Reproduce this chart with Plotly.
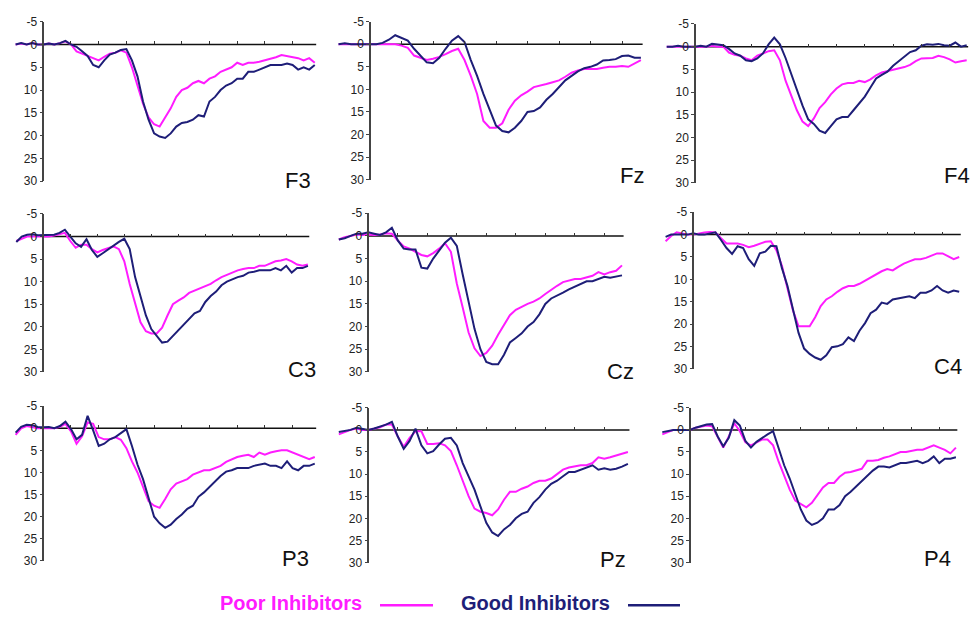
import plotly.graph_objects as go

W, H = 976, 623

# ERP amplitudes (µV, positive plotted downward), sampled every 20 ms from -100 ms
T0_MS = -100
STEP_MS = 20

SITES = ["F3", "Fz", "F4", "C3", "Cz", "C4", "P3", "Pz", "P4"]

F3_GOOD = [0, -0.3, 0, -0.3, 0, 0, -0.2, 0, -0.3, -0.8,
           0, 0.5, 1.5, 2.5, 4.5, 5.0, 3.5, 2.2, 1.8, 1.2,
           1.0, 3.5, 7.0, 12.5, 16.5, 19.5, 20.2, 20.5, 19.5, 18,
           17.2, 17, 16.5, 15.5, 15.8, 12.5, 11.5, 10, 9, 8.5,
           7.5, 7.5, 6, 6, 5.5, 5, 4.5, 4.5, 4.5, 4.2,
           4.5, 5.5, 5, 5.5, 4.5]
F3_POOR = [0, -0.2, 0, -0.3, 0, 0, -0.2, 0, -0.3, -0.7,
           0, 1.5, 2, 2.5, 3, 3.5, 2.7, 2, 1.8, 1.3,
           1.8, 5, 9, 13, 16, 17.5, 18, 16, 14, 11.5,
           10, 9.5, 8.5, 8, 8.5, 7.5, 7, 6, 5.5, 5,
           4, 4.5, 4, 4, 3.8, 3.5, 3.2, 2.8, 2.3, 2.5,
           2.8, 3, 3.5, 3, 4]

FZ_GOOD = [0, -0.2, 0, 0, 0, 0, 0, -0.3, -1.0, -2,
           -1.4, -0.8, 1.0, 2.5, 4.0, 4.2, 3.0, 1.0, -0.8, -1.8,
           -0.5, 3.5, 7, 11, 14.5, 18, 19.2, 19.5, 18.5, 17,
           15, 14.8, 14, 12.3, 11, 9.5, 8, 7, 6, 5.3,
           5, 4.5, 3.6, 3.5, 3.3, 2.6, 2.5, 3, 3]
FZ_POOR = [0, 0, 0, 0, 0, 0, 0, 0, 0, 0,
           0.3, 0.8, 2.5, 3, 3.5, 3.2, 2.8, 2.2, 1.5, 1.0,
           3.5, 7, 11, 17, 18.5, 18.5, 17.5, 14.5, 12.5, 11.3,
           10.5, 9.5, 9.2, 8.8, 8.4, 8, 7.2, 6.3, 5.8, 5.5,
           5.5, 5.5, 5.2, 5, 5, 4.8, 5, 4.2, 3.5]

F4_GOOD = [0, 0, -0.2, 0, 0, 0, -0.2, 0, -0.6, -0.5,
           -0.3, 0.5, 1.5, 2.0, 3.0, 3.2, 2.6, 1.5, -0.5, -2.0,
           -0.5, 2.5, 6.0, 9.5, 13, 16, 17, 18.5, 19, 17.5,
           16, 15.5, 15.5, 14, 12.5, 11, 9, 7, 6.2, 5.5,
           4.2, 3.2, 2, 1.2, 0.8, -0.2, -0.5, -0.4, -0.6, -0.3,
           -0.2, -0.9, 0, -0.3]
F4_POOR = [0, 0, 0, 0, 0, 0, 0, 0, -0.2, 0,
           0, 1.3, 1.8, 2.0, 2.6, 3.0, 2.0, 1.5, 1.0, 0.8,
           3.0, 7.5, 10.8, 14, 16.5, 17.5, 15.8, 13.5, 12.2, 10.5,
           9.2, 8.3, 8, 8, 7.5, 7.8, 7.2, 6.3, 5.7, 5.4,
           5, 4.8, 4.5, 4.0, 3.2, 2.6, 2.5, 2.5, 2.0, 2.3,
           2.8, 3.5, 3.2, 3]

C3_GOOD = [1.2, 0, -0.4, -0.5, -0.3, -0.3, -0.3, -0.4, -0.8, -1.5,
           0, 1.5, 2.3, 0.6, 3.0, 4.5, 3.7, 2.8, 2.0, 1.2,
           0.5, 2.8, 9, 13.5, 17.5, 20.5, 22, 23.5, 23.3, 22,
           20.8, 19.5, 18.2, 17, 16.5, 14.5, 13.2, 12.2, 10.8, 10,
           9.5, 9, 8.7, 8, 7.8, 7.5, 7.5, 7.5, 7, 7.5,
           6.5, 8, 7, 7, 6.5]
C3_POOR = [1.0, 0.5, 0, 0, 0, 0, 0, -0.2, -0.5, -0.8,
           1.0, 2.5, 1.8, 1.8, 2.8, 3.5, 3.0, 2.6, 2.2, 2.8,
           5.5, 10.5, 15, 19, 21, 21.5, 21.5, 20.2, 17.5, 15,
           14.2, 13.5, 12.5, 12, 11.5, 11, 10.5, 9.7, 9, 8.5,
           8, 7.5, 7.2, 7, 7, 6.5, 6.5, 6, 5.5, 5.3,
           5, 5.5, 6.2, 6.5, 6.2]

CZ_GOOD = [0.8, 0.5, 0, -0.5, -0.5, -0.8, -0.5, -0.2, -0.8, -1.8,
           1.0, 2.8, 3.0, 3.0, 7.0, 7.2, 5.0, 3.3, 1.5, 0.4,
           2.2, 8.5, 14.5, 20.5, 25, 27.8, 28.3, 28.3, 26.2, 23.5,
           22.5, 21.5, 20, 19, 17.3, 15, 13.8, 13.2, 12.5, 11.8,
           11.2, 10.5, 10, 10, 9.5, 9, 9.2, 9, 8.7]
CZ_POOR = [0.8, 0.3, 0, -0.3, -0.2, -0.3, -0.2, -0.3, -0.6, -0.5,
           1.0, 2.3, 2.8, 3.5, 4.2, 4.5, 3.8, 2.8, 1.6, 3.5,
           10.5, 15.8, 21.3, 24.8, 26.5, 25.8, 24.2, 21.8, 19.5, 17.5,
           16.3, 15.6, 15, 14.5, 13.8, 12.8, 11.8, 11, 10.2, 9.8,
           9.5, 9.5, 9.2, 8.8, 8, 8.5, 8, 7.7, 6.5]

C4_GOOD = [0.5, 0, 0, 0, 0, -0.3, 0, 0, -0.2, -0.5,
           1.2, 3.0, 4.3, 2.6, 3.0, 5.5, 7.0, 4.2, 3.8, 2.5,
           2.6, 7.5, 11.5, 17, 22, 25.5, 26.7, 27.5, 28, 27,
           25.2, 25, 24.5, 23, 23.8, 21.5, 19.8, 17.6, 16.8, 15.2,
           15.5, 14.5, 14.3, 14, 13.8, 14.2, 13, 13, 12.5, 11.5,
           12.5, 13, 12.5, 12.8]
C4_POOR = [1.5, 0.3, -0.5, -0.3, 0, 0, -0.3, -0.5, -0.6, -0.5,
           0.8, 2.0, 2.0, 2.0, 2.3, 2.8, 2.5, 2.0, 1.6, 1.5,
           3.5, 7, 12, 17, 20.5, 20.5, 20.5, 18.5, 16, 14.5,
           13.8, 12.8, 12, 11.5, 11.5, 11, 10.3, 9.5, 8.8, 8.2,
           7.7, 8, 7.2, 6.5, 6, 5.5, 5.5, 5.2, 4.7, 4.2,
           4.2, 4.8, 5.5, 5]

P3_GOOD = [1.0, -0.3, -0.8, -0.7, -0.3, -0.2, -0.3, 0, -0.5, -1.5,
           0.2, 2.5, 1.5, -2.8, 0.5, 4.0, 3.5, 2.5, 2.0, 1.0,
           0.2, 4.0, 8.2, 11.5, 16, 20, 21.5, 22.5, 21.8, 20.5,
           19.5, 18.2, 17.5, 15.5, 14.5, 13.2, 12, 10.8, 9.8, 9.5,
           9, 9, 9, 8.5, 8.2, 8, 8.5, 8.5, 9, 7.5,
           9, 9.5, 8.5, 8.5, 8]
P3_POOR = [1.5, 0, -0.5, -0.3, 0, 0, 0, 0, -0.3, -1.0,
           0.7, 3.5, 1.8, -1.3, -1.0, 2.0, 2.5, 2.5, 2.0, 2.6,
           4.5, 7.5, 10, 13.5, 16.5, 17.5, 18, 16, 13.8, 12.5,
           12, 11.5, 10.5, 10, 9.5, 9.5, 9, 8.5, 7.6, 7,
           6.5, 6.2, 6, 6.5, 5.5, 6, 5.5, 5.2, 5, 5,
           5.5, 6, 6.5, 7, 6.5]

PZ_GOOD = [0.5, 0.2, 0, -0.5, -0.3, 0, -0.3, -0.7, -1.2, -1.8,
           1.5, 4.3, 2.5, -0.3, 3.5, 5.3, 4.8, 3.3, 2.0, 1.8,
           3.5, 7.5, 10.5, 13.5, 17.3, 21, 23.2, 24, 22.5, 21.5,
           20, 19, 18.5, 16.5, 15.2, 13.5, 12.2, 11.5, 10.5, 9.5,
           9.5, 9, 8.5, 8, 9, 8.7, 9, 8.8, 8.3, 7.7]
PZ_POOR = [1.0, 0.5, 0, -0.3, 0, 0, -0.3, -0.6, -1.2, -1.2,
           1.5, 3.8, 1.8, 0.3, 0.3, 3.2, 3.2, 3.0, 3.5, 4.8,
           8.0, 11.5, 15, 17.8, 18.5, 18.8, 19.3, 18, 15.8, 14,
           14, 13.3, 12.8, 12, 11.5, 11.5, 11, 10, 9, 8.5,
           8.2, 8, 8, 7.5, 6.2, 6.5, 6.2, 5.8, 5.5, 5]

P4_GOOD = [0.5, 0.2, 0, 0, 0, 0, -0.5, -0.8, -1.2, -1.3,
           1.5, 3.7, 1.8, -2.2, -1.0, 2.5, 4.0, 2.7, 1.8, 1.0,
           0.3, 4.0, 8, 11, 14.5, 18, 20.5, 21.5, 21, 20,
           18, 18, 17, 15, 14, 12.8, 11.5, 10.5, 9.2, 8.3,
           8.3, 8.5, 8, 7.5, 7.5, 7.2, 7, 7.5, 7, 6,
           7.5, 6.5, 6.5, 6.2]
P4_POOR = [1.0, 0.5, 0, 0, 0, 0, -0.5, -0.8, -1, -0.8,
           1.5, 4.0, 1.5, -1.5, 0.3, 2.8, 3.5, 2.8, 2.2, 2.2,
           3.5, 7.2, 10.5, 13.5, 16, 16.8, 17.5, 16.5, 14.8, 13,
           12, 12, 10.6, 9.7, 9.5, 9.2, 8.8, 7, 7, 6.8,
           6.3, 6, 5.5, 5, 5, 4.7, 4.5, 4.5, 4, 3.5,
           4, 4.5, 5.3, 4]

DATA = {
    "F3": (F3_GOOD, F3_POOR), "Fz": (FZ_GOOD, FZ_POOR), "F4": (F4_GOOD, F4_POOR),
    "C3": (C3_GOOD, C3_POOR), "Cz": (CZ_GOOD, CZ_POOR), "C4": (C4_GOOD, C4_POOR),
    "P3": (P3_GOOD, P3_POOR), "Pz": (PZ_GOOD, PZ_POOR), "P4": (P4_GOOD, P4_POOR),
}

Y_TICKS = [-5, 0, 5, 10, 15, 20, 25, 30]
Y_MIN, Y_MAX = -5, 30

# Panel geometry in pixels: x of the 0 ms axis, px per ms, y of -5 and of 30, site label centre
GEOM = {
    "F3": dict(ax=43.3, ppm=0.277, ytop=15.0, ybot=178.3, lab=(298, 177)),
    "Fz": dict(ax=370.0, ppm=0.315, ytop=15.0, ybot=176.7, lab=(632, 172)),
    "F4": dict(ax=695.0, ppm=0.283, ytop=17.3, ybot=180.0, lab=(957, 172)),
    "C3": dict(ax=43.3, ppm=0.270, ytop=211.7, ybot=373.3, lab=(302, 371)),
    "Cz": dict(ax=368.3, ppm=0.295, ytop=211.0, ybot=373.3, lab=(620, 373)),
    "C4": dict(ax=693.3, ppm=0.277, ytop=210.0, ybot=370.0, lab=(948, 368)),
    "P3": dict(ax=43.3, ppm=0.277, ytop=408.3, ybot=566.7, lab=(295, 564)),
    "Pz": dict(ax=368.3, ppm=0.295, ytop=410.0, ybot=568.3, lab=(613, 565)),
    "P4": dict(ax=690.0, ppm=0.277, ytop=410.0, ybot=568.3, lab=(937, 564)),
}

POOR_COLOR = "#ff1cff"
GOOD_COLOR = "#1e1e78"
FONT = "Liberation Sans, Arial, sans-serif"

fig = go.Figure()
layout = {}
shapes = []
annotations = []

for i, site in enumerate(SITES):
    n = i + 1
    sfx = "" if n == 1 else str(n)
    g = GEOM[site]
    good, poor = DATA[site]
    t = [T0_MS + STEP_MS * k for k in range(len(good))]
    t_end = t[-1]
    xr0, xr1 = T0_MS - 6, t_end + 6
    x_left = g["ax"] + xr0 * g["ppm"]
    x_right = g["ax"] + xr1 * g["ppm"]
    xdom = [x_left / W, x_right / W]
    ydom = [1 - g["ybot"] / H, 1 - g["ytop"] / H]
    zero_pos = ydom[0] + (Y_MAX - 0) / (Y_MAX - Y_MIN) * (ydom[1] - ydom[0])

    fig.add_trace(go.Scatter(x=t, y=poor, mode="lines", name="Poor Inhibitors",
                             line=dict(color=POOR_COLOR, width=2),
                             xaxis="x" + sfx, yaxis="y" + sfx,
                             showlegend=False, hoverinfo="skip"))
    fig.add_trace(go.Scatter(x=t, y=good, mode="lines", name="Good Inhibitors",
                             line=dict(color=GOOD_COLOR, width=2),
                             xaxis="x" + sfx, yaxis="y" + sfx,
                             showlegend=False, hoverinfo="skip"))

    layout["xaxis" + sfx] = dict(
        domain=xdom, range=[xr0, xr1], anchor="free", position=zero_pos,
        side="top", showline=False, showgrid=False, zeroline=False,
        ticks="outside", ticklen=3, tickwidth=1.2, tickcolor="#333",
        tickvals=list(range(100, t_end + 1, 100)), showticklabels=False,
    )
    layout["yaxis" + sfx] = dict(
        domain=ydom, range=[Y_MAX, Y_MIN], anchor="free", position=g["ax"] / W,
        showline=True, linecolor="#444", linewidth=1.5, showgrid=False,
        zeroline=False, ticks="outside", ticklen=3, tickwidth=1.2,
        tickcolor="#444", tickvals=Y_TICKS,
        ticktext=[str(v) for v in Y_TICKS],
        tickfont=dict(family=FONT, size=12, color="#222"),
    )

    # baseline from stimulus onset to the end of the epoch
    shapes.append(dict(type="line", xref="x" + sfx, yref="y" + sfx,
                       x0=0, x1=t_end + 6, y0=0, y1=0, layer="below",
                       line=dict(color="#111", width=1.5)))

    lx, ly = g["lab"]
    annotations.append(dict(text=site, x=lx / W, y=1 - ly / H, xref="paper", yref="paper",
                            xanchor="center", yanchor="middle", showarrow=False,
                            font=dict(family=FONT, size=22, color="#111")))

# legend row
annotations.append(dict(text="<b>Poor Inhibitors</b>", x=291 / W, y=1 - 610 / H,
                        xref="paper", yref="paper", xanchor="center", yanchor="middle",
                        showarrow=False, font=dict(family=FONT, size=20, color=POOR_COLOR)))
annotations.append(dict(text="<b>Good Inhibitors</b>", x=535 / W, y=1 - 610 / H,
                        xref="paper", yref="paper", xanchor="center", yanchor="middle",
                        showarrow=False, font=dict(family=FONT, size=20, color=GOOD_COLOR)))
shapes.append(dict(type="line", xref="paper", yref="paper", x0=380 / W, x1=433 / W,
                   y0=1 - 612 / H, y1=1 - 612 / H, line=dict(color=POOR_COLOR, width=2.5)))
shapes.append(dict(type="line", xref="paper", yref="paper", x0=628 / W, x1=680 / W,
                   y0=1 - 612 / H, y1=1 - 612 / H, line=dict(color=GOOD_COLOR, width=2.5)))

fig.update_layout(
    width=W, height=H, margin=dict(l=0, r=0, t=0, b=0),
    paper_bgcolor="white", plot_bgcolor="rgba(0,0,0,0)",
    showlegend=False, shapes=shapes, annotations=annotations,
    **layout,
)

fig.write_html("out.html")
